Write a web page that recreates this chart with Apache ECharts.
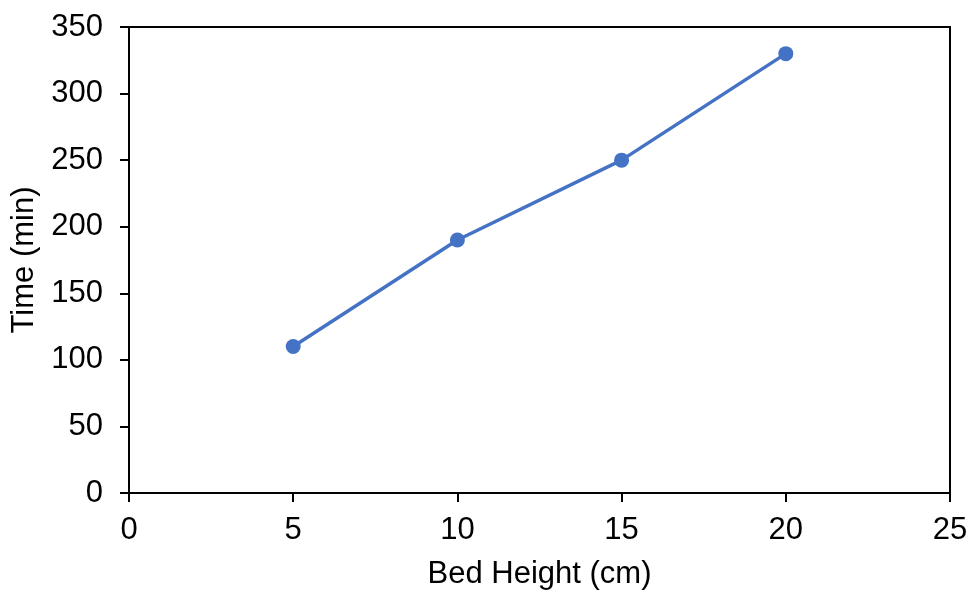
<!DOCTYPE html>
<html>
<head>
<meta charset="utf-8">
<script src="https://cdn.jsdelivr.net/npm/echarts@6/dist/echarts.min.js"></script>
<style>
  html, body { margin: 0; padding: 0; background: #fff; }
  #chart { width: 969px; height: 590px; }
</style>
</head>
<body>
<div id="chart"></div>
<script>
// Bed height (cm) against time (min)
const bedHeight = [5, 10, 15, 20];
const timeMin = [110, 190, 250, 330];

const xTitle = 'Bed Height (cm)';
const yTitle = 'Time (min)';

const points = bedHeight.map((h, i) => [h, timeMin[i]]);

const chart = echarts.init(document.getElementById('chart'), null, { renderer: 'canvas' });
const font = 'Liberation Sans, Arial, sans-serif';
const axisLine = { show: true, lineStyle: { color: '#000', width: 2 } };
const tick = { show: true, inside: false, length: 9, lineStyle: { color: '#000', width: 2 } };

chart.setOption({
  animation: false,
  backgroundColor: '#fff',
  grid: {
    left: 129, right: 19, top: 27, bottom: 97,
    containLabel: false,
    outerBoundsMode: 'none',
    show: true, borderColor: '#000', borderWidth: 2
  },
  xAxis: {
    type: 'value', min: 0, max: 25, interval: 5,
    name: xTitle, nameLocation: 'middle', nameGap: 66,
    nameTextStyle: { fontFamily: font, fontSize: 31, color: '#000' },
    axisLine: axisLine,
    axisTick: tick,
    axisLabel: { margin: 22, fontFamily: font, fontSize: 31, color: '#000' },
    splitLine: { show: false }
  },
  yAxis: {
    type: 'value', min: 0, max: 350, interval: 50,
    name: yTitle, nameLocation: 'middle', nameGap: 89,
    nameTextStyle: { fontFamily: font, fontSize: 31, color: '#000' },
    axisLine: axisLine,
    axisTick: tick,
    axisLabel: { margin: 26, fontFamily: font, fontSize: 31, color: '#000' },
    splitLine: { show: false }
  },
  series: [{
    type: 'line',
    data: points,
    symbol: 'circle',
    symbolSize: 15,
    itemStyle: { color: '#4472C4' },
    lineStyle: { color: '#4472C4', width: 3.5 }
  }]
});
</script>
</body>
</html>
